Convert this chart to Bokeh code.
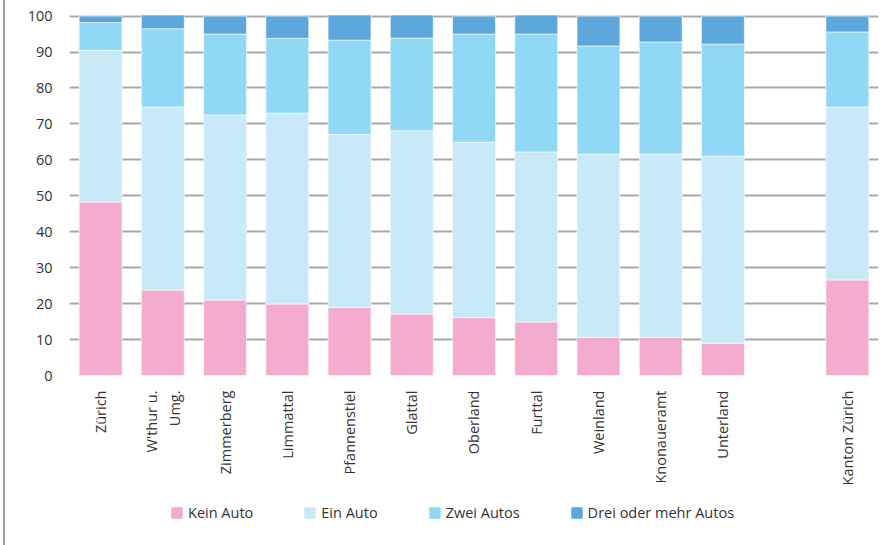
from bokeh.plotting import figure
from bokeh.layouts import column
from bokeh.models import (ColumnDataSource, FactorRange, Legend, LegendItem,
                          SingleIntervalTicker, Range1d)
from bokeh.embed import file_html
from bokeh.resources import INLINE

categories = ["Zürich", "W'thur u.\nUmg.", "Zimmerberg", "Limmattal", "Pfannenstiel", "Glattal",
              "Oberland", "Furttal", "Weinland", "Knonaueramt", "Unterland", " ", "Kanton Zürich"]
kein_auto = [48.3, 23.8, 21.0, 19.9, 18.9, 17.1, 16.1, 14.9, 10.6, 10.6, 9.0, 0, 26.6]
ein_auto = [42.2, 50.9, 51.5, 53.1, 48.2, 51.0, 48.8, 47.3, 51.0, 51.0, 52.0, 0, 48.1]
zwei_autos = [7.7, 21.8, 22.5, 20.8, 26.2, 25.8, 30.1, 32.8, 30.1, 31.2, 31.2, 0, 20.9]
drei_autos = [1.8, 3.8, 5.0, 6.2, 7.0, 6.4, 5.0, 5.3, 8.3, 7.2, 7.8, 0, 4.4]
series = ["Kein Auto", "Ein Auto", "Zwei Autos", "Drei oder mehr Autos"]
colors = ["#F4ACCE", "#C7E9F8", "#8FD8F6", "#5CA8DC"]

source = ColumnDataSource(data=dict(cat=categories, k=kein_auto, e=ein_auto, z=zwei_autos, d=drei_autos))
stack = ["k", "e", "z", "d"]

FONT = "Open Sans"
TXT = "#333333"

# main chart
p = figure(x_range=FactorRange(*categories, range_padding=0), y_range=(0, 101),
           width=892, height=490, output_backend="svg", toolbar_location=None,
           min_border_left=69, min_border_right=14, min_border_top=12, min_border_bottom=115)
p.outline_line_color = None
p.border_fill_alpha = 0

p.vbar_stack(stack, x="cat", width=0.69, color=colors, source=source,
             line_color="white", line_width=0.6)

p.xgrid.grid_line_color = None
p.ygrid.grid_line_color = "#A8A8A8"
p.ygrid.grid_line_width = 2
p.yaxis.ticker = SingleIntervalTicker(interval=10)
p.yaxis.axis_line_color = None
p.yaxis.major_tick_line_color = None
p.yaxis.minor_tick_line_color = None
p.yaxis.major_label_standoff = 11
p.xaxis.axis_line_color = None
p.xaxis.major_tick_line_color = None
p.xaxis.major_label_orientation = 1.5707963
p.xaxis.major_label_standoff = 9
for ax in (p.xaxis, p.yaxis):
    ax.major_label_text_font = FONT
    ax.major_label_text_font_size = "14.5px"
    ax.major_label_text_color = TXT

# legend strip (same stacked data, drawn out of its visible range; only the legend shows)
lf = figure(width=892, height=55, output_backend="svg", toolbar_location=None,
            x_range=FactorRange(*categories, range_padding=0), y_range=Range1d(500, 501),
            x_axis_location=None, y_axis_location=None,
            min_border_left=69, min_border_right=14, min_border_top=0, min_border_bottom=0)
lf.outline_line_color = None
lf.border_fill_alpha = 0
lf.background_fill_alpha = 0
lf.grid.grid_line_color = None
rs = lf.vbar_stack(stack, x="cat", width=0.69, color=colors, source=source)

legend = Legend(items=[LegendItem(label=s, renderers=[r]) for s, r in zip(series, rs)],
                orientation="horizontal", location=(101, 23), margin=0,
                glyph_width=13, glyph_height=13, label_standoff=5, spacing=50,
                padding=0, border_line_color=None, background_fill_alpha=0,
                label_text_font=FONT, label_text_font_size="14.5px", label_text_color=TXT)
lf.add_layout(legend, "center")

layout = column(p, lf, spacing=0)
layout.styles = {"box-shadow": "inset 3px 0 0 0 #ffffff, inset 5px 0 0 0 #A0A0A0"}

open("out.html", "w").write(file_html(layout, INLINE))
